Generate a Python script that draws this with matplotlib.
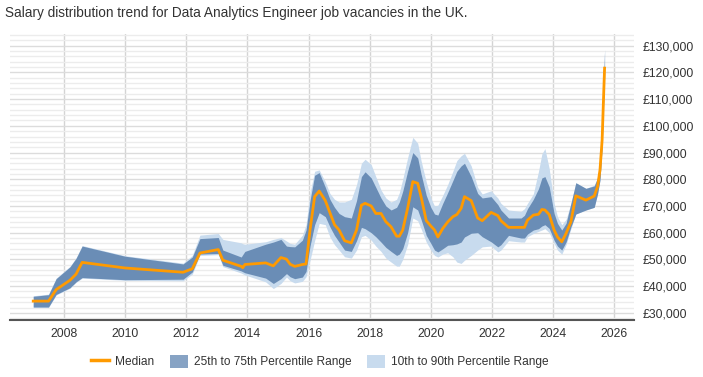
import matplotlib
matplotlib.use("Agg")
import matplotlib.pyplot as plt
from matplotlib.ticker import MultipleLocator, FuncFormatter
from matplotlib.patches import Patch
from matplotlib.lines import Line2D

plt.rcParams['font.family'] = ['Liberation Sans', 'DejaVu Sans']

# decimal years, salaries in thousands of pounds
dates = [2007.00, 2007.50, 2007.75, 2008.20, 2008.40, 2008.60, 2010.00, 2011.90,
         2012.20, 2012.45, 2013.05, 2013.20, 2013.80, 2013.85, 2013.92, 2014.60,
         2014.85, 2015.10, 2015.28, 2015.40, 2015.55, 2015.80, 2015.92, 2016.05,
         2016.20, 2016.35, 2016.55, 2016.70, 2016.85, 2017.00, 2017.18, 2017.40,
         2017.57, 2017.73, 2017.85, 2018.05, 2018.20, 2018.37, 2018.53, 2018.70,
         2018.88, 2018.97, 2019.08, 2019.24, 2019.41, 2019.57, 2019.68, 2019.85,
         2020.00, 2020.12, 2020.23, 2020.39, 2020.55, 2020.72, 2020.85, 2020.99,
         2021.10, 2021.32, 2021.53, 2021.68, 2021.97, 2022.19, 2022.29, 2022.54,
         2022.95, 2023.06, 2023.16, 2023.35, 2023.52, 2023.63, 2023.73, 2023.87,
         2024.03, 2024.14, 2024.28, 2024.42, 2024.58, 2024.74, 2025.07, 2025.34,
         2025.45, 2025.53, 2025.60, 2025.64, 2025.68]

median = [34.4, 34.4, 38.7, 42.2, 44.5, 48.9, 46.8, 45.2,
          46.5, 52.4, 53.7, 49.7, 47.4, 46.9, 48.1, 48.7,
          47.6, 50.7, 50.1, 48.2, 47.4, 48.1, 48.3, 61.0,
          73.5, 75.6, 72.0, 67.5, 63.0, 61.0, 57.0, 56.2,
          61.0, 70.3, 71.0, 70.0, 67.2, 67.2, 64.1, 62.2,
          58.7, 58.7, 61.0, 69.1, 79.1, 78.5, 73.5, 64.5,
          62.5, 61.0, 58.4, 61.6, 64.0, 66.0, 66.8, 69.1,
          73.5, 72.0, 65.5, 64.5, 67.6, 66.4, 64.5, 62.0,
          62.0, 62.0, 64.7, 66.6, 66.9, 68.7, 68.5, 66.8,
          61.0, 58.4, 56.6, 59.7, 64.1, 73.8, 72.2, 73.7,
          77.2, 83.5, 94.7, 108.4, 121.6]

p25 = [32.2, 32.2, 36.9, 39.4, 41.6, 43.2, 42.4, 42.6,
       45.3, 52.0, 52.2, 47.8, 45.7, 45.4, 45.0, 43.0,
       41.0, 42.8, 44.7, 43.5, 42.8, 43.4, 45.5, 55.0,
       63.0, 67.5, 66.0, 62.2, 59.0, 56.5, 53.5, 53.0,
       57.0, 62.0, 61.5, 60.0, 58.5, 56.5, 54.5, 53.0,
       51.5, 52.0, 54.0, 60.0, 69.7, 68.5, 65.0, 59.0,
       56.0, 53.5, 52.8, 54.0, 55.3, 55.5, 55.8, 56.5,
       58.4, 59.8, 60.0, 58.5, 56.6, 54.7, 55.5, 59.0,
       58.0, 58.0, 59.5, 61.0, 61.5, 62.5, 63.0, 61.6,
       57.2, 55.0, 53.5, 56.5, 62.2, 67.0, 68.5, 69.5,
       74.5, 79.7, 92.0, 106.0, 118.0]

p75 = [36.2, 36.8, 42.8, 47.2, 50.4, 55.0, 51.2, 48.3,
       50.9, 57.8, 58.2, 53.5, 50.9, 51.8, 53.0, 55.7,
       56.5, 57.5, 55.0, 54.8, 54.7, 57.2, 61.0, 72.0,
       81.5, 82.5, 77.0, 72.5, 69.5, 67.2, 66.0, 65.5,
       72.0, 81.0, 82.8, 80.5, 77.0, 73.0, 70.0, 68.5,
       69.5, 71.5, 75.5, 83.0, 90.0, 88.0, 82.0, 74.0,
       69.5, 67.0, 66.6, 71.0, 75.0, 79.5, 83.0, 85.0,
       86.0, 81.0, 74.7, 73.0, 73.5, 70.5, 68.5, 65.5,
       65.5, 66.5, 69.0, 72.5, 76.5, 80.5, 81.0, 77.2,
       67.2, 63.5, 61.0, 63.5, 71.0, 78.7, 76.6, 77.5,
       80.5, 86.0, 98.0, 113.0, 128.5]

p10 = [32.0, 32.0, 36.7, 39.2, 41.4, 43.0, 42.2, 42.0,
       44.5, 51.5, 51.8, 47.3, 44.9, 44.6, 44.2, 41.6,
       39.1, 41.0, 43.4, 42.0, 41.2, 41.8, 43.5, 49.7,
       57.0, 63.5, 63.0, 58.4, 55.5, 53.5, 51.0, 50.5,
       53.5, 58.5, 59.0, 57.2, 55.0, 53.0, 50.5, 49.0,
       47.5, 47.5, 50.0, 55.5, 65.5, 64.5, 61.5, 56.5,
       53.5, 51.5, 50.9, 52.0, 52.5, 51.0, 49.0, 48.5,
       49.7, 51.5, 53.5, 54.7, 55.0, 52.8, 53.5, 57.0,
       56.5, 56.5, 58.5, 59.7, 60.5, 61.0, 61.5, 60.0,
       56.0, 53.5, 52.0, 55.5, 61.5, 67.0, 68.5, 69.5,
       74.5, 79.7, 92.0, 106.0, 118.0]

p90 = [36.4, 37.0, 43.0, 47.4, 50.6, 55.2, 51.4, 48.6,
       51.5, 59.1, 59.7, 57.5, 56.2, 55.9, 55.7, 56.6,
       57.5, 58.2, 56.9, 56.0, 55.7, 59.1, 63.0, 75.0,
       83.0, 83.5, 79.0, 74.7, 72.5, 71.5, 71.5, 72.5,
       78.0, 86.0, 87.5, 85.5, 81.0, 76.0, 73.0, 71.5,
       72.5, 75.0, 80.0, 88.0, 95.7, 93.5, 87.0, 79.0,
       73.0, 70.0, 70.3, 74.0, 78.0, 83.0, 87.0, 88.8,
       89.7, 85.0, 77.0, 74.5, 75.7, 73.0, 71.0, 68.5,
       68.0, 69.0, 71.0, 74.5, 83.0, 89.5, 91.5, 84.0,
       71.0, 66.0, 63.0, 65.0, 71.0, 78.7, 76.6, 77.8,
       80.5, 86.0, 98.0, 113.0, 128.5]

x_ticks = list(range(2008, 2027, 2))

median_color = '#ff9a00'
dark_color = '#6a8db6'
light_color = '#c8dbee'

fig = plt.figure(figsize=(7.03, 3.77), dpi=100)
ax = fig.add_axes([0.0142, 0.151, 0.888, 0.759])

ax.fill_between(dates, p10, p90, color=light_color, lw=0, zorder=2)
ax.fill_between(dates, p25, p75, color=dark_color, lw=0, zorder=3)
ax.plot(dates, median, color=median_color, lw=2, zorder=4)

ax.set_xlim(2006.24, 2026.65)
ax.set_ylim(27.3, 134.4)
ax.set_xticks(x_ticks)
ax.yaxis.set_major_locator(MultipleLocator(10))
ax.yaxis.set_minor_locator(MultipleLocator(2))
ax.yaxis.set_major_formatter(FuncFormatter(lambda v, p: f'£{int(round(v * 1000)):,}'))

ax.grid(axis='x', color='#d4d4d4', lw=1, zorder=0)
ax.grid(axis='y', which='major', color='#dcdcdc', lw=1, zorder=0)
ax.grid(axis='y', which='minor', color='#ececec', lw=1, zorder=0)

ax.yaxis.tick_right()
ax.tick_params(axis='y', which='both', length=0, pad=6, labelsize=8.8, labelcolor='#333333')
ax.tick_params(axis='x', length=0, pad=6, labelsize=8.8, labelcolor='#333333')
for s in ['top', 'left', 'right']:
    ax.spines[s].set_visible(False)
ax.spines['bottom'].set_color('#555555')
ax.spines['bottom'].set_linewidth(1.5)

fig.text(0.007, 0.965, 'Salary distribution trend for Data Analytics Engineer job vacancies in the UK.',
         fontsize=9.8, color='#333333', va='center', ha='left')

handles = [Line2D([], [], color=median_color, lw=2.5),
           Patch(facecolor='#87a3c4', edgecolor='none'),
           Patch(facecolor=light_color, edgecolor='none')]
labels = ['Median', '25th to 75th Percentile Range', '10th to 90th Percentile Range']
fig.legend(handles, labels, loc='center', bbox_to_anchor=(0.455, 0.04), ncol=3,
           frameon=False, fontsize=8.6, handlelength=1.5, handleheight=1.2,
           columnspacing=1.3, handletextpad=0.5, labelcolor='#333333')

fig.savefig('out.png', dpi=100)
